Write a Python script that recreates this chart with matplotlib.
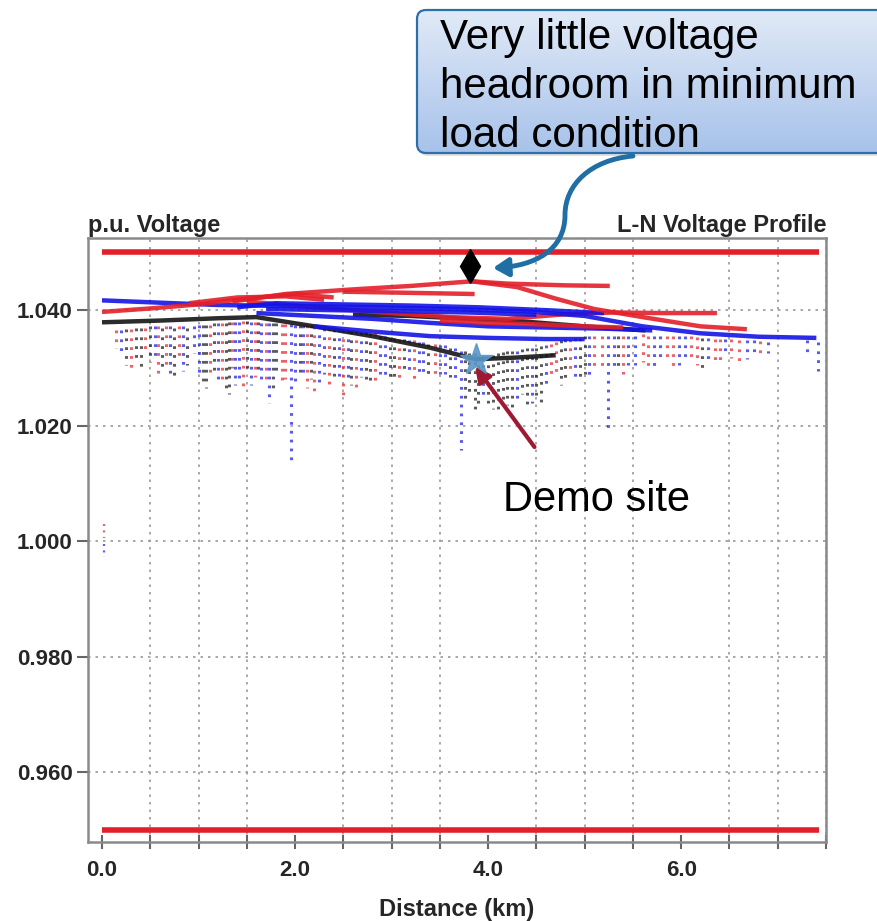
#!/usr/bin/env python3
from __future__ import annotations

import matplotlib

matplotlib.use("Agg")
import matplotlib.pyplot as plt
import numpy as np
from matplotlib.colors import LinearSegmentedColormap
from matplotlib.patches import FancyArrowPatch, FancyBboxPatch
from matplotlib.path import Path

OUTPUT_PATH = "out.png"
FIG_W, FIG_H = 877, 921

RED = "#e3202a"
BLUE = "#1414e6"
BLACK = "#151515"
COLORS = {"r": RED, "b": BLUE, "k": BLACK}

# voltage limits
UPPER_LIMIT = 1.050
LOWER_LIMIT = 0.950
LIMIT_X = [0.0, 7.43]

# main feeder profiles (distance km, p.u. voltage)
red_1_x = [1.35, 1.9, 2.6, 3.2, 3.83, 4.2, 4.8, 5.26]
red_1_y = [1.0415, 1.0428, 1.0436, 1.0442, 1.0450, 1.0446, 1.0443, 1.0442]
red_2_x = [3.83, 4.3, 4.7, 5.1, 5.6, 6.2, 6.68]
red_2_y = [1.0450, 1.0440, 1.0420, 1.0402, 1.0388, 1.0372, 1.0367]
red_3_x = [0.0, 0.5, 1.0, 1.5, 2.0, 2.4]
red_3_y = [1.0397, 1.0403, 1.0410, 1.0420, 1.0428, 1.0422]
red_4_x = [2.5, 3.2, 3.86]
red_4_y = [1.0432, 1.0430, 1.0428]
red_5_x = [1.5, 2.2, 3.0, 3.6, 4.2, 4.8, 5.3, 5.8, 6.37]
red_5_y = [1.0415, 1.0405, 1.0395, 1.0388, 1.0385, 1.0393, 1.0396, 1.0395, 1.0395]
red_6_x = [3.5, 4.0, 4.6, 5.0, 5.4]
red_6_y = [1.0382, 1.0378, 1.0375, 1.0372, 1.0370]
red_7_x = [0.9, 1.4, 1.9, 2.3]
red_7_y = [1.0412, 1.0422, 1.0424, 1.0418]

blue_1_x = [0.0, 0.6, 1.2, 2.0, 2.8, 3.6, 4.4, 5.0, 5.6, 6.2, 6.8, 7.4]
blue_1_y = [1.0417, 1.0413, 1.0409, 1.0407, 1.0405, 1.0402, 1.0398, 1.0390, 1.0372, 1.0360, 1.0354, 1.0352]
blue_2_x = [1.4, 1.8, 2.5, 3.2, 3.9, 4.6, 5.2]
blue_2_y = [1.0405, 1.0412, 1.0410, 1.0408, 1.0405, 1.0400, 1.0395]
blue_3_x = [1.6, 2.2, 2.8, 3.4, 4.0, 4.6, 5.2, 5.7]
blue_3_y = [1.0395, 1.0390, 1.0385, 1.0378, 1.0372, 1.0370, 1.0368, 1.0365]
blue_4_x = [2.2, 2.8, 3.4, 4.0, 4.6, 5.0]
blue_4_y = [1.0372, 1.0363, 1.0355, 1.0352, 1.0350, 1.0350]
blue_5_x = [1.7, 2.4, 3.1, 3.8, 4.5]
blue_5_y = [1.0402, 1.0400, 1.0398, 1.0396, 1.0392]

black_1_x = [0.0, 0.6, 1.2, 1.6, 2.2, 2.8, 3.4, 3.875, 4.3, 4.7]
black_1_y = [1.0379, 1.0382, 1.0386, 1.0388, 1.0372, 1.0355, 1.0335, 1.0315, 1.0318, 1.0322]
black_2_x = [2.6, 3.2, 3.8, 4.4, 5.0, 5.63]
black_2_y = [1.0392, 1.0390, 1.0385, 1.0380, 1.0372, 1.0365]

# laterals: distance, top voltage, bottom voltage, colour key
lat_a_x = [0.15, 0.25, 0.35, 0.45, 0.55, 0.62, 0.70, 0.80, 0.88, 0.95,
           1.05, 1.12, 1.20, 1.28, 1.35, 1.42, 1.50, 1.58, 1.65, 1.73,
           1.80, 1.86, 1.96, 2.05, 2.12, 2.20, 2.30, 2.40, 2.50, 2.58,
           2.68, 2.78, 2.88, 2.98, 3.08, 3.18, 3.28, 3.38, 3.50, 3.60,
           3.72, 3.80, 3.90, 4.00, 4.10, 4.20, 4.30, 4.40, 4.50, 4.60,
           4.70, 4.80, 4.90, 5.00, 5.10, 5.24, 5.35, 5.45, 5.60, 5.72,
           5.85, 5.98, 6.10, 6.22, 6.35, 6.45, 6.60, 6.75, 6.90, 7.30, 7.42]
lat_a_top = [1.0365, 1.0368, 1.0370, 1.0370, 1.0372, 1.0370, 1.0372, 1.0372, 1.0370, 1.0372,
             1.0375, 1.0375, 1.0378, 1.0378, 1.0380, 1.0380, 1.0382, 1.0380, 1.0378, 1.0378,
             1.0378, 1.0376, 1.0376, 1.0375, 1.0374, 1.0372, 1.0370, 1.0368, 1.0366, 1.0364,
             1.0362, 1.0360, 1.0356, 1.0352, 1.0350, 1.0348, 1.0345, 1.0342, 1.0340, 1.0335,
             1.0330, 1.0325, 1.0320, 1.0320, 1.0325, 1.0330, 1.0330, 1.0335, 1.0335, 1.0340,
             1.0345, 1.0350, 1.0352, 1.0355, 1.0355, 1.0355, 1.0355, 1.0355, 1.0358, 1.0355,
             1.0355, 1.0355, 1.0355, 1.0352, 1.0350, 1.0350, 1.0348, 1.0348, 1.0345, 1.0348, 1.0345]
lat_a_bottom = [1.0335, 1.0305, 1.0310, 1.0330, 1.0320, 1.0300, 1.0290, 1.0315, 1.0305, 1.0325,
                1.0270, 1.0290, 1.0280, 1.0262, 1.0300, 1.0275, 1.0295, 1.0285, 1.0270, 1.0240,
                1.0290, 1.0275, 1.0140, 1.0285, 1.0265, 1.0260, 1.0290, 1.0280, 1.0250, 1.0270,
                1.0285, 1.0275, 1.0290, 1.0285, 1.0280, 1.0295, 1.0290, 1.0285, 1.0290, 1.0285,
                1.0158, 1.0250, 1.0230, 1.0240, 1.0225, 1.0235, 1.0245, 1.0228, 1.0250, 1.0270,
                1.0290, 1.0280, 1.0285, 1.0290, 1.0300, 1.0192, 1.0300, 1.0305, 1.0310, 1.0300,
                1.0315, 1.0305, 1.0310, 1.0300, 1.0312, 1.0320, 1.0310, 1.0322, 1.0325, 1.0320, 1.0295]
lat_a_color = ["r", "k", "k", "r", "b", "k", "b", "r", "k", "b",
               "k", "r", "b", "k", "r", "b", "k", "r", "b", "b",
               "k", "r", "b", "k", "r", "r", "b", "k", "r", "k",
               "b", "k", "b", "k", "r", "b", "b", "k", "b", "k",
               "b", "k", "k", "k", "k", "k", "b", "k", "k", "b",
               "r", "k", "b", "k", "r", "b", "k", "b", "r", "b",
               "r", "b", "r", "k", "r", "b", "r", "b", "b", "b", "b"]

lat_b_x = [0.20, 0.30, 0.40, 0.50, 0.58, 0.66, 0.75, 0.84, 1.00, 1.08,
           1.16, 1.24, 1.32, 1.38, 1.46, 1.54, 1.62, 1.70, 1.77, 1.90,
           2.00, 2.08, 2.16, 2.25, 2.35, 2.45, 2.55, 2.63, 2.73, 2.83,
           2.93, 3.03, 3.13, 3.23, 3.33, 3.45, 3.55, 3.66, 3.76, 3.86,
           3.95, 4.05, 4.15, 4.25, 4.35, 4.45, 4.55, 4.65, 4.75, 4.85,
           4.95, 5.05, 5.18, 5.30, 5.40, 5.52, 5.66, 5.78, 5.92, 6.04,
           6.16, 6.28, 6.40, 6.52, 6.68, 6.82]
lat_b_top = [1.0366, 1.0368, 1.0370, 1.0372, 1.0372, 1.0372, 1.0370, 1.0372, 1.0375, 1.0375,
             1.0378, 1.0378, 1.0380, 1.0380, 1.0382, 1.0380, 1.0380, 1.0378, 1.0378, 1.0376,
             1.0375, 1.0375, 1.0374, 1.0372, 1.0370, 1.0368, 1.0366, 1.0364, 1.0362, 1.0360,
             1.0356, 1.0352, 1.0350, 1.0348, 1.0345, 1.0342, 1.0340, 1.0335, 1.0330, 1.0325,
             1.0320, 1.0322, 1.0328, 1.0330, 1.0332, 1.0335, 1.0338, 1.0342, 1.0348, 1.0350,
             1.0352, 1.0355, 1.0355, 1.0355, 1.0355, 1.0356, 1.0356, 1.0355, 1.0355, 1.0355,
             1.0353, 1.0352, 1.0350, 1.0350, 1.0348, 1.0347]
lat_b_bottom = [1.0320, 1.0300, 1.0295, 1.0310, 1.0290, 1.0305, 1.0280, 1.0295, 1.0285, 1.0265,
                1.0295, 1.0275, 1.0255, 1.0270, 1.0260, 1.0270, 1.0290, 1.0280, 1.0265, 1.0280,
                1.0270, 1.0290, 1.0280, 1.0270, 1.0265, 1.0285, 1.0275, 1.0260, 1.0280, 1.0270,
                1.0280, 1.0275, 1.0290, 1.0280, 1.0285, 1.0280, 1.0290, 1.0275, 1.0240, 1.0220,
                1.0250, 1.0228, 1.0240, 1.0232, 1.0255, 1.0240, 1.0230, 1.0280, 1.0270, 1.0290,
                1.0275, 1.0285, 1.0295, 1.0300, 1.0290, 1.0305, 1.0298, 1.0310, 1.0300, 1.0315,
                1.0305, 1.0310, 1.0305, 1.0318, 1.0315, 1.0320]
lat_b_color = ["b", "r", "k", "k", "r", "r", "k", "b", "b", "k",
               "k", "r", "k", "b", "r", "b", "k", "r", "k", "r",
               "b", "b", "k", "b", "r", "b", "b", "r", "k", "r",
               "b", "k", "k", "r", "b", "r", "b", "b", "k", "k",
               "b", "k", "k", "k", "k", "b", "k", "r", "k", "r",
               "k", "b", "r", "b", "r", "b", "r", "b", "r", "b",
               "r", "b", "r", "r", "b", "r"]

# stray points at the source bus
source_x = [0.02, 0.02]
source_top = [1.0030, 0.9995]
source_bottom = [1.0005, 0.9972]
source_color = ["r", "b"]

HEADROOM_POINT = (3.81, 1.0476)
DEMO_SITE = (3.875, 1.0313)

Y_TICKS = [0.960, 0.980, 1.000, 1.020, 1.040]
X_TICKS = [0.0, 2.0, 4.0, 6.0]
X_MINOR = np.arange(0.0, 7.51, 0.5)

CALLOUT_TEXT = "Very little voltage\nheadroom in minimum\nload condition"
DEMO_TEXT = "Demo site"


def draw_laterals(ax, xs, tops, bottoms, keys, lw=2.2) -> None:
    for x0, y0, y1, c in zip(xs, tops, bottoms, keys):
        ax.plot([x0, x0], [y0, y1], color=COLORS[c], lw=lw, ls=(0, (0.9, 2.0)), alpha=0.7)


def draw_profiles(ax) -> None:
    ax.plot(LIMIT_X, [UPPER_LIMIT] * 2, color=RED, lw=4, solid_capstyle="butt")
    ax.plot(LIMIT_X, [LOWER_LIMIT] * 2, color=RED, lw=4, solid_capstyle="butt")

    draw_laterals(ax, lat_a_x, lat_a_top, lat_a_bottom, lat_a_color)
    draw_laterals(ax, lat_b_x, lat_b_top, lat_b_bottom, lat_b_color)
    draw_laterals(ax, source_x, source_top, source_bottom, source_color, lw=1.6)

    lines = [
        (black_1_x, black_1_y, BLACK), (black_2_x, black_2_y, BLACK),
        (blue_4_x, blue_4_y, BLUE), (blue_3_x, blue_3_y, BLUE),
        (red_6_x, red_6_y, RED), (red_5_x, red_5_y, RED),
        (blue_5_x, blue_5_y, BLUE), (blue_2_x, blue_2_y, BLUE),
        (blue_1_x, blue_1_y, BLUE),
        (red_7_x, red_7_y, RED), (red_3_x, red_3_y, RED), (red_4_x, red_4_y, RED),
        (red_1_x, red_1_y, RED), (red_2_x, red_2_y, RED),
    ]
    for xs, ys, c in lines:
        ax.plot(xs, ys, color=c, lw=3.2, alpha=0.9, solid_capstyle="butt")

    ax.plot(*HEADROOM_POINT, marker="d", color="black", markersize=17, zorder=6, clip_on=False)
    ax.plot(*DEMO_SITE, marker="*", color="#5b97c8", markersize=24, alpha=0.9, zorder=6)


def style_axes(ax) -> None:
    ax.set_xlim(-0.145, 7.495)
    ax.set_ylim(0.9479, 1.0525)
    ax.set_yticks(Y_TICKS)
    ax.set_yticklabels([f"{v:.3f}" for v in Y_TICKS])
    ax.set_xticks(X_TICKS)
    ax.set_xticklabels([f"{v:.1f}" for v in X_TICKS])
    ax.set_xticks(X_MINOR, minor=True)
    for spine in ax.spines.values():
        spine.set_color("#8a8a8a")
        spine.set_linewidth(1.8)
    ax.tick_params(axis="y", direction="out", length=8, width=1.5, color="#666666",
                   labelsize=16, labelcolor="#262626", pad=3)
    ax.tick_params(axis="x", which="both", direction="inout", length=10, width=1.5,
                   color="#666666", labelsize=16, labelcolor="#262626", pad=8)
    for lab in ax.get_xticklabels() + ax.get_yticklabels():
        lab.set_fontweight("bold")
    ax.grid(True, axis="y", which="major", color="#9a9a9a", ls=(0, (1.5, 3)), lw=1.2)
    ax.grid(True, axis="x", which="minor", color="#9a9a9a", ls=(0, (1.5, 3)), lw=1.2)
    ax.grid(False, axis="x", which="major")
    ax.set_xlabel("Distance (km)", fontsize=17, fontweight="bold", color="#262626", labelpad=12)
    ax.text(0.0, 1.002, "p.u. Voltage", transform=ax.transAxes, ha="left", va="bottom",
            fontsize=17, fontweight="bold", color="#262626")
    ax.text(1.0, 1.002, "L-N Voltage Profile", transform=ax.transAxes, ha="right", va="bottom",
            fontsize=17, fontweight="bold", color="#262626")


def draw_annotations(fig, ax) -> None:
    # demo site pointer, in data coordinates
    ax.annotate("", xy=(DEMO_SITE[0] - 0.01, DEMO_SITE[1] - 0.0010), xytext=(4.48, 1.0163),
                arrowprops=dict(arrowstyle="-|>,head_length=0.9,head_width=0.45",
                                color="#9e1a32", lw=3, shrinkA=0, shrinkB=0),
                annotation_clip=False)
    ax.text(5.12, 1.0071, DEMO_TEXT, ha="center", va="center", fontsize=30,
            family=["Liberation Sans", "DejaVu Sans"], color="black")

    # callout box overlay in pixel coordinates
    ov = fig.add_axes([0, 0, 1, 1], zorder=10)
    ov.axis("off")
    ov.patch.set_alpha(0)

    shadow = FancyBboxPatch((419, 13), 500, 143, boxstyle="round,pad=0,rounding_size=9",
                            facecolor="#000000", alpha=0.12, edgecolor="none")
    ov.add_patch(shadow)
    grad = np.linspace(0, 1, 256).reshape(-1, 1)
    cmap = LinearSegmentedColormap.from_list("callout", ["#e1eaf7", "#a7c2ea"])
    img = ov.imshow(grad, extent=(417, 917, 153, 10), cmap=cmap, aspect="auto", zorder=1)
    fill = FancyBboxPatch((417, 10), 500, 143, boxstyle="round,pad=0,rounding_size=9",
                          facecolor="none", edgecolor="none")
    ov.add_patch(fill)
    img.set_clip_path(fill)
    box = FancyBboxPatch((417, 10), 500, 143, boxstyle="round,pad=0,rounding_size=9",
                         facecolor="none", edgecolor="#2f6fa8", lw=1.6, zorder=2)
    ov.add_patch(box)
    ov.set_xlim(0, FIG_W)
    ov.set_ylim(FIG_H, 0)
    ov.text(440, 18, CALLOUT_TEXT, ha="left", va="top", fontsize=30.3, linespacing=1.29,
            family=["Liberation Sans", "DejaVu Sans"], color="black", zorder=3)

    curve = Path([(633, 156), (590, 160), (565, 185), (565, 215),
                  (565, 250), (535, 266), (493, 268)],
                 [Path.MOVETO, Path.CURVE4, Path.CURVE4, Path.CURVE4,
                  Path.CURVE4, Path.CURVE4, Path.CURVE4])
    arrow = FancyArrowPatch(path=curve, arrowstyle="-|>,head_length=9,head_width=5.5",
                            color="#1f6fa5", lw=3.5, zorder=4)
    ov.add_patch(arrow)


def main() -> int:
    plt.rcParams["font.family"] = ["Liberation Sans", "DejaVu Sans"]
    fig = plt.figure(figsize=(FIG_W / 100, FIG_H / 100), dpi=100)
    ax = fig.add_axes([88 / FIG_W, 1 - 842 / FIG_H, (826 - 88) / FIG_W, (842 - 238) / FIG_H])
    draw_profiles(ax)
    style_axes(ax)
    draw_annotations(fig, ax)
    fig.savefig(OUTPUT_PATH, dpi=100)
    plt.close(fig)
    return 0


if __name__ == "__main__":
    raise SystemExit(main())
